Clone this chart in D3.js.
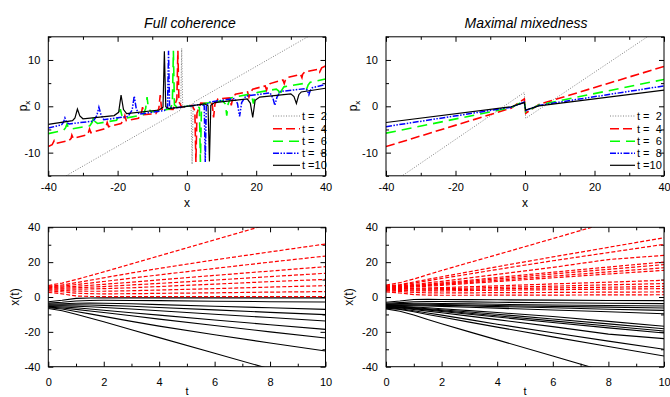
<!DOCTYPE html>
<html>
<head>
<meta charset="utf-8">
<script src="https://cdn.jsdelivr.net/npm/d3@7/dist/d3.min.js"></script>
<style>
  body { margin: 0; background: #fff; }
  text { font-family: "Liberation Sans", Arial, sans-serif; }
</style>
</head>
<body>
<svg id="chart" width="670" height="397"></svg>
<script>
// ---- data ----
const titles = ["Full coherence", "Maximal mixedness"];
const legendLabels = ["t =  2", "t =  4", "t =  6", "t =  8", "t =10"];
const xTicks = [-40, -20, 0, 20, 40];
const xMinor = [-30, -10, 10, 30];
const pTicks = [-10, 0, 10];
const pMinor = [-15, -5, 5, 15];
const tTicks = [0, 2, 4, 6, 8, 10];
const tMinor = [1, 3, 5, 7, 9];
const xtTicks = [-40, -20, 0, 20, 40];
const xtMinor = [-30, -10, 10, 30];

// p_x(x) at t = 2,4,6,8,10, full coherence
const coh2 = [[-40,-17.2],[-1.8,-0.8],[-1.5,12.5],[-1.2,-0.4],[0,0],[1.2,0.4],[1.5,-12.5],[1.8,0.8],[40,17.2]];
const coh4 = [[-40,-8.7],[-38.9,-8.3],[-38.3,-7.4],[-37.8,-8.0],[-34,-7.4],[-33.4,-6.9],[-33.2,-6.2],[-32.8,-6.9],
  [-29,-6.2],[-28.4,-5.6],[-28.1,-4.9],[-27.7,-5.7],[-24,-4.9],[-23.3,-4.3],[-23.0,-3.5],[-22.6,-4.4],
  [-19,-3.7],[-18.3,-3.0],[-17.9,-2.0],[-17.5,-3.1],[-14,-2.6],[-13.2,-1.7],[-12.8,-0.2],[-12.4,-1.8],
  [-9,-1.6],[-8.1,-0.5],[-7.7,2.4],[-7.3,-0.6],[-4,-0.7],[-2.9,1.5],[-2.6,12],[-2.3,1.0],[-1.5,-0.2],[0,0],
  [1.5,0.2],[2.3,-1.0],[2.6,-12],[2.9,-1.5],[4,0.7],[7.3,0.6],[7.7,-2.4],[8.1,0.5],[9,1.6],
  [12.4,1.8],[12.8,0.2],[13.2,1.7],[14,2.6],[17.5,3.1],[17.9,2.0],[18.3,3.0],[19,3.7],
  [22.6,4.4],[23.0,3.5],[23.3,4.3],[24,4.9],[27.7,5.7],[28.1,4.9],[28.4,5.6],[29,6.2],
  [32.8,6.9],[33.2,6.2],[33.4,6.9],[34,7.4],[37.8,8.0],[38.3,7.4],[38.9,8.3],[40,8.7]];
const coh6 = [[-40,-5.9],[-35.6,-5.2],[-35.0,-4.6],[-34.6,-3.8],[-34.2,-4.7],[-33.5,-4.9],
  [-28,-4.2],[-27.3,-3.4],[-26.9,-2.2],[-26.5,-3.3],[-25.8,-3.7],[-20.3,-3.0],[-19.6,-2.0],[-19.2,-0.6],
  [-18.8,-1.9],[-18,-2.6],[-12.6,-1.8],[-11.9,-0.5],[-11.5,2.0],[-11.1,-0.5],[-10.3,-1.2],
  [-4.9,-0.6],[-4.2,0.5],[-3.9,12],[-3.6,0.3],[-2.8,-0.2],[0,0],
  [2.8,0.2],[3.6,-0.3],[3.9,-12],[4.2,-0.5],[4.9,0.6],[10.3,1.2],[11.1,0.5],[11.5,-2.0],[11.9,0.5],
  [12.6,1.8],[18,2.6],[18.8,1.9],[19.2,0.6],[19.6,2.0],[20.3,3.0],[25.8,3.7],[26.5,3.3],[26.9,2.2],
  [27.3,3.4],[28,4.2],[33.5,4.9],[34.2,4.7],[34.6,3.8],[35.0,4.6],[35.6,5.2],[40,5.9]];
const coh8 = [[-40,-4.7],[-36.2,-4.0],[-35.6,-3.4],[-35.2,-2.5],[-34.7,-3.5],[-34,-3.8],
  [-27,-3.2],[-26,-2.0],[-25.4,-0.2],[-24.8,-1.8],[-24,-2.9],[-17,-2.2],[-15.8,-0.8],[-15.2,2.2],
  [-14.6,-0.6],[-13.8,-1.7],[-6.5,-0.9],[-5.6,-0.2],[-5.3,12],[-5.0,-0.1],[-4.2,-0.4],[0,0],
  [4.2,0.4],[5.0,0.1],[5.3,-12],[5.6,0.2],[6.5,0.9],[13.8,1.7],[14.6,0.6],[15.2,-2.2],[15.8,0.8],
  [17,2.2],[24,2.9],[24.8,1.8],[25.4,0.2],[26,2.0],[27,3.2],[34,3.8],[34.7,3.5],[35.2,2.5],
  [35.6,3.4],[36.2,4.0],[40,4.7]];
const coh10 = [[-40,-3.9],[-33,-3.1],[-32.3,-2.5],[-31.6,-0.6],[-30.9,-2.1],[-30,-2.7],
  [-21,-2.0],[-19.7,-1.3],[-19,2.4],[-18.3,-0.7],[-17.4,-1.6],[-8,-0.8],[-6.9,-0.2],[-6.5,11.9],
  [-6.1,-0.1],[-5.2,-0.5],[0,0],[5.2,0.5],[6.1,0.1],[6.5,-11.9],[6.9,0.2],[8,0.8],[17.4,1.6],
  [18.3,0.7],[19,-2.4],[19.7,1.3],[21,2.0],[30,2.7],[30.9,2.1],[31.6,0.6],[32.3,2.5],[33,3.1],[40,3.9]];

// p_x(x), maximal mixedness
const mix2 = [[-40,-17.4],[-0.2,3.0],[0.2,-2.6],[40,17.4]];
const mix4 = [[-40,-8.7],[-4,-0.4],[-0.2,1.6],[0.2,-1.5],[4,0.4],[40,8.6]];
const mix6 = [[-40,-5.8],[-4,-0.3],[-0.2,1.2],[0.2,-1.2],[4,0.3],[40,5.8]];
const mix8 = [[-40,-4.4],[-4,-0.2],[-0.2,0.9],[0.2,-0.9],[4,0.2],[40,4.4]];
const mix10 = [[-40,-3.5],[-4,-0.1],[-0.2,0.8],[0.2,-0.8],[4,0.1],[40,3.5]];

// trajectories x(t)
const tGrid = [0, 0.5, 1, 1.5, 2, 3, 4, 6, 8, 10];
const cohRed = [
  [6.6, 8.0, 10.0, 12.2, 14.4, 19.0, 23.6, 32.8, 42.0, 51.0],
  [6.2, 6.9, 8.2, 9.6, 11.0, 13.8, 16.4, 21.3, 25.9, 30.4],
  [5.8, 6.3, 7.1, 8.0, 8.9, 10.8, 12.7, 16.4, 20.0, 23.5],
  [5.4, 5.7, 6.1, 6.7, 7.3, 8.5, 9.8, 12.4, 14.9, 17.4],
  [5.0, 5.1, 5.3, 5.6, 6.0, 6.9, 7.8, 9.7, 11.7, 13.6],
  [4.6, 4.5, 4.5, 4.6, 4.8, 5.3, 6.0, 7.4, 8.8, 10.1],
  [4.1, 3.8, 3.4, 3.3, 3.3, 3.6, 4.0, 4.8, 5.7, 6.5],
  [3.5, 3.0, 2.2, 1.9, 1.8, 1.9, 2.1, 2.4, 2.8, 3.1],
  [2.7, 1.8, 0.6, 0.3, 0.25, 0.2, 0.2, 0.2, 0.2, 0.2]
];
const cohBlack = [
  [-6.6, -7.9, -9.9, -12.1, -14.2, -18.8, -23.3, -32.3, -41.3, -50.0],
  [-6.2, -6.9, -8.3, -9.7, -11.1, -14.0, -16.7, -21.7, -26.4, -31.0],
  [-5.8, -6.3, -7.1, -8.0, -8.9, -10.8, -12.7, -16.4, -20.0, -23.5],
  [-5.4, -5.7, -6.2, -6.9, -7.6, -9.0, -10.4, -13.2, -15.9, -18.6],
  [-5.0, -5.1, -5.3, -5.6, -6.0, -6.9, -7.9, -9.9, -11.8, -13.8],
  [-4.6, -4.5, -4.5, -4.6, -4.8, -5.3, -6.0, -7.4, -8.8, -10.1],
  [-4.1, -3.9, -3.6, -3.5, -3.6, -3.9, -4.4, -5.3, -6.2, -7.1],
  [-3.5, -3.0, -2.3, -2.0, -1.9, -2.0, -2.1, -2.4, -2.7, -2.9],
  [-2.7, -1.9, -0.8, -0.6, -0.5, -0.5, -0.5, -0.5, -0.5, -0.5]
];
const mixRed = [
  [6.8, 8.2, 10.3, 12.8, 15.2, 19.8, 24.3, 33.5, 42.8, 52.0],
  [6.4, 7.1, 8.6, 10.1, 11.6, 14.5, 17.4, 23.0, 28.5, 34.0],
  [6.1, 6.7, 8.0, 9.3, 10.6, 13.2, 15.8, 20.8, 25.5, 30.2],
  [5.9, 6.3, 7.2, 8.1, 9.0, 11.0, 13.0, 17.0, 21.5, 23.9],
  [5.7, 6.0, 6.7, 7.4, 8.1, 9.6, 11.2, 14.2, 17.2, 20.1],
  [5.5, 5.8, 6.4, 7.0, 7.6, 9.0, 10.4, 13.2, 15.9, 18.6],
  [5.3, 5.6, 6.1, 6.6, 7.2, 8.4, 9.6, 12.0, 14.4, 16.8],
  [5.1, 5.3, 5.7, 6.2, 6.7, 7.8, 8.9, 11.0, 13.2, 15.3],
  [4.8, 4.9, 5.0, 5.2, 5.4, 5.9, 6.4, 7.5, 8.5, 9.6],
  [4.6, 4.6, 4.6, 4.7, 4.8, 5.1, 5.5, 6.2, 7.0, 7.7],
  [4.3, 4.2, 4.1, 4.1, 4.2, 4.4, 4.7, 5.2, 5.6, 6.1],
  [4.0, 3.8, 3.5, 3.5, 3.5, 3.7, 3.9, 4.2, 4.5, 4.8],
  [3.6, 3.2, 2.6, 2.4, 2.3, 2.4, 2.5, 2.6, 2.8, 2.9],
  [3.0, 2.3, 1.4, 1.1, 1.0, 1.0, 1.1, 1.1, 1.2, 1.3]
];
const mixBlack = [
  [-6.8, -8.2, -10.3, -12.9, -15.3, -20.0, -24.6, -33.9, -43.2, -52.5],
  [-6.4, -7.1, -8.5, -10.0, -11.5, -14.4, -17.3, -22.9, -28.4, -33.9],
  [-6.1, -6.7, -7.9, -9.2, -10.4, -13.0, -15.6, -20.5, -25.3, -30.0],
  [-5.9, -6.3, -7.2, -8.1, -9.0, -11.0, -13.0, -17.0, -21.3, -23.9],
  [-5.7, -6.0, -6.8, -7.5, -8.3, -9.9, -11.5, -14.6, -17.7, -20.7],
  [-5.5, -5.8, -6.5, -7.1, -7.8, -9.3, -10.8, -13.7, -16.6, -19.5],
  [-5.3, -5.6, -6.1, -6.7, -7.3, -8.6, -9.9, -12.6, -15.4, -18.2],
  [-5.1, -5.3, -5.7, -6.2, -6.7, -7.8, -8.9, -11.2, -14.0, -16.8],
  [-4.8, -4.9, -5.0, -5.2, -5.4, -5.9, -6.4, -7.5, -8.5, -9.6],
  [-4.6, -4.6, -4.6, -4.7, -4.8, -5.1, -5.5, -6.2, -7.0, -7.7],
  [-4.3, -4.2, -4.2, -4.2, -4.3, -4.6, -4.9, -5.4, -5.8, -6.3],
  [-4.0, -3.8, -3.6, -3.6, -3.7, -3.9, -4.2, -4.6, -4.9, -5.2],
  [-3.6, -3.2, -2.7, -2.6, -2.6, -2.8, -3.0, -3.3, -3.6, -3.8],
  [-3.0, -2.3, -1.4, -1.3, -1.4, -1.5, -1.6, -1.8, -2.0, -2.1]
];

// ---- drawing ----
const svg = d3.select('#chart');
const FONT = '"Liberation Sans", Arial, sans-serif';

const styles = [
  { color: '#808080', dash: '1,1.6', width: 1 },
  { color: '#ff0000', dash: '9,4', width: 1.6 },
  { color: '#00ff00', dash: '10,6', width: 1.6 },
  { color: '#0000ff', dash: '6,1.5,1.5,1.5,1.5,1.5', width: 1.5 },
  { color: '#000000', dash: null, width: 1.2 }
];

let clipN = 0;
function panel(box, xDom, yDom, xMaj, xMin, yMaj, yMin, padX) {
  const x = d3.scaleLinear().domain(xDom).range([box.x0, box.x1]);
  const y = d3.scaleLinear().domain(yDom).range([box.y1, box.y0]);
  const id = 'clip' + (clipN++);
  svg.append('clipPath').attr('id', id).append('rect')
    .attr('x', box.x0).attr('y', box.y0)
    .attr('width', box.x1 - box.x0).attr('height', box.y1 - box.y0);

  const fmt = d => String(d);
  const axes = [
    [d3.axisBottom(x).tickValues(xMaj).tickSize(-5).tickPadding(padX).tickFormat(fmt), `translate(0,${box.y1})`],
    [d3.axisBottom(x).tickValues(xMin).tickSize(-3).tickFormat(''), `translate(0,${box.y1})`],
    [d3.axisTop(x).tickValues(xMaj).tickSize(-5).tickFormat(''), `translate(0,${box.y0})`],
    [d3.axisTop(x).tickValues(xMin).tickSize(-3).tickFormat(''), `translate(0,${box.y0})`],
    [d3.axisLeft(y).tickValues(yMaj).tickSize(-5).tickPadding(8).tickFormat(fmt), `translate(${box.x0},0)`],
    [d3.axisLeft(y).tickValues(yMin).tickSize(-3).tickFormat(''), `translate(${box.x0},0)`],
    [d3.axisRight(y).tickValues(yMaj).tickSize(-5).tickFormat(''), `translate(${box.x1},0)`],
    [d3.axisRight(y).tickValues(yMin).tickSize(-3).tickFormat(''), `translate(${box.x1},0)`]
  ];
  axes.forEach(([ax, tr]) => {
    const g = svg.append('g').attr('transform', tr).call(ax.tickSizeOuter(0));
    g.select('.domain').remove();
    g.attr('font-size', 11).attr('font-family', FONT);
    g.selectAll('text').attr('fill', '#000');
  });
  const plot = svg.append('g').attr('clip-path', `url(#${id})`);
  svg.append('rect').attr('x', box.x0).attr('y', box.y0)
    .attr('width', box.x1 - box.x0).attr('height', box.y1 - box.y0)
    .attr('fill', 'none').attr('stroke', '#000').attr('stroke-width', 1);
  return { x, y, plot };
}

function label(txt, x, y, opts = {}) {
  const t = svg.append('text').attr('x', x).attr('y', y)
    .attr('text-anchor', 'middle').attr('font-size', opts.size || 12)
    .attr('font-family', FONT).attr('fill', '#000');
  if (opts.rotate) t.attr('transform', `rotate(-90,${x},${y})`);
  if (opts.italic) t.attr('font-style', 'italic');
  return t.text(txt);
}

const boxes = {
  tl: { x0: 48.3, x1: 325.5, y0: 36.8, y1: 175.8 },
  tr: { x0: 386, x1: 664, y0: 36.8, y1: 175.8 },
  bl: { x0: 48.3, x1: 325.5, y0: 227.3, y1: 366.7 },
  br: { x0: 386, x1: 664, y0: 227.3, y1: 366.7 }
};

const topSets = [[coh2, coh4, coh6, coh8, coh10], [mix2, mix4, mix6, mix8, mix10]];
const legendX = [[273, 300, 302], [610, 635, 637]];
const legendY = [116, 128.7, 141.3, 153.3, 165.3];

['tl', 'tr'].forEach((k, pi) => {
  const P = panel(boxes[k], [-40, 40], [-15, 15], xTicks, xMinor, pTicks, pMinor, 7);
  const line = d3.line().x(d => P.x(d[0])).y(d => P.y(d[1]));
  topSets[pi].forEach((series, i) => {
    const s = styles[i];
    P.plot.append('path').datum(series).attr('d', line)
      .attr('fill', 'none').attr('stroke', s.color).attr('stroke-width', s.width)
      .attr('stroke-dasharray', s.dash);
  });
  // legend
  legendLabels.forEach((lab, i) => {
    const s = styles[i];
    const [lx0, lx1, tx] = legendX[pi];
    svg.append('line').attr('x1', lx0).attr('x2', lx1)
      .attr('y1', legendY[i]).attr('y2', legendY[i])
      .attr('stroke', s.color).attr('stroke-width', s.width)
      .attr('stroke-dasharray', s.dash);
    svg.append('text').attr('x', tx).attr('y', legendY[i]).attr('dy', '0.35em')
      .attr('font-size', 11).attr('font-family', FONT)
      .style('white-space', 'pre').text(lab);
  });
});

const botSets = [[cohRed, cohBlack], [mixRed, mixBlack]];
['bl', 'br'].forEach((k, pi) => {
  const P = panel(boxes[k], [0, 10], [-40, 40], tTicks, tMinor, xtTicks, xtMinor, 12);
  const line = d3.line().x(d => P.x(d[0])).y(d => P.y(d[1]));
  const [reds, blacks] = botSets[pi];
  blacks.forEach(vals => {
    P.plot.append('path').datum(tGrid.map((t, i) => [t, vals[i]])).attr('d', line)
      .attr('fill', 'none').attr('stroke', '#000').attr('stroke-width', 1.1);
  });
  reds.forEach(vals => {
    P.plot.append('path').datum(tGrid.map((t, i) => [t, vals[i]])).attr('d', line)
      .attr('fill', 'none').attr('stroke', '#ff0000').attr('stroke-width', 1.2)
      .attr('stroke-dasharray', '4,2');
  });
});

// titles and axis labels
label(titles[0], 190, 27.5, { size: 14, italic: true });
label(titles[1], 526, 27.5, { size: 14, italic: true });
label('x', 187, 207);
label('x', 525, 207);
label('t', 187, 394.5, { size: 11 });
label('t', 525, 394.5, { size: 11 });
[[26.5, 106], [356.5, 106]].forEach(([x, y]) => {
  const t = svg.append('text').attr('x', x).attr('y', y)
    .attr('text-anchor', 'middle').attr('font-size', 12).attr('font-family', FONT)
    .attr('transform', `rotate(-90,${x},${y})`);
  t.append('tspan').text('p');
  t.append('tspan').attr('font-size', 8).attr('dy', 3).text('x');
});
label('x(t)', 19, 297, { rotate: true });
label('x(t)', 353, 297, { rotate: true });
</script>
</body>
</html>
